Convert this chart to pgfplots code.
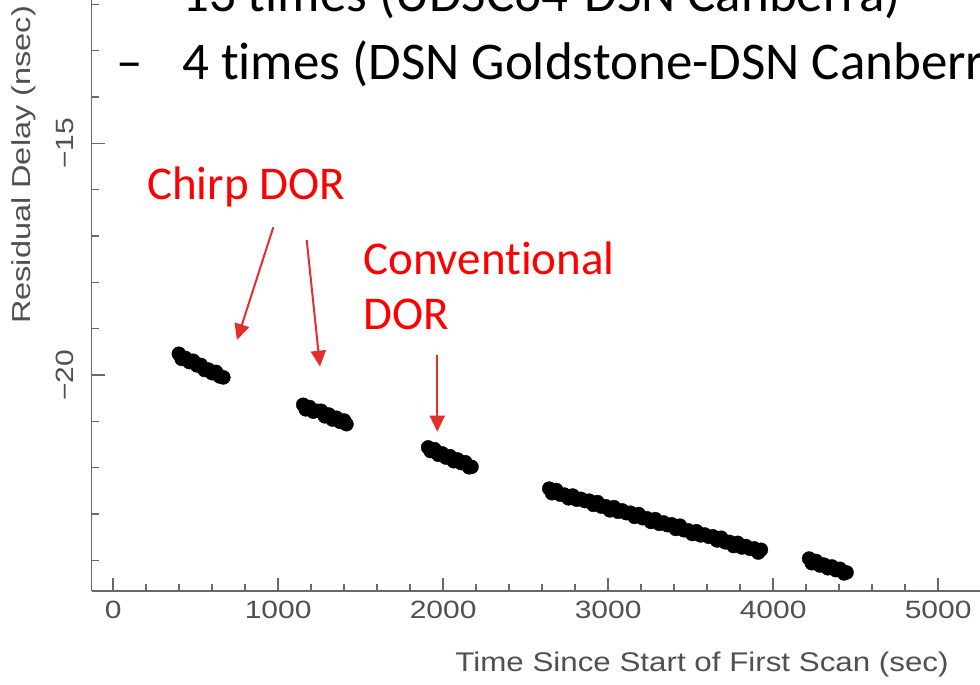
\documentclass[border=0pt]{standalone}
\usepackage{fontspec}
\usepackage{pgfplots}
\pgfplotsset{compat=1.18}
\usetikzlibrary{arrows.meta}
\newfontfamily\idlfont[FakeStretch=1.16]{Liberation Sans}
\newfontfamily\idlwide[FakeStretch=1.25]{Liberation Sans}
\newfontfamily\idltick[FakeStretch=1.2]{Liberation Sans}
\newfontfamily\slidefont[Ligatures=NoCommon]{Carlito}
\definecolor{axgray}{RGB}{105,105,105}
\definecolor{txgray}{RGB}{80,80,80}
\definecolor{annred}{RGB}{255,0,0}
\definecolor{arrred}{RGB}{228,45,45}
\begin{document}
\begin{tikzpicture}[x=1pt,y=1pt]
\useasboundingbox (0,0) rectangle (980,685);
\clip (0,0) rectangle (980,685);
\begin{axis}[
  scale only axis, width=928.95pt, height=609.7pt,
  at={(91.7pt,94pt)}, anchor=south west,
  xmin=-130, xmax=5500, ymin=-24.66, ymax=-11.5,
  axis x line*=bottom, axis y line*=left,
  axis line style={axgray, line width=1.4pt},
  every tick/.style={axgray, line width=1.4pt},
  tick align=inside,
  major tick length=13pt, minor tick length=7pt,
  xtick={0,1000,2000,3000,4000,5000},
  xticklabels={0,1000,2000,3000,4000,5000},
  minor x tick num=4,
  ytick={-25,-20,-15,-10},
  yticklabels={−25,−20,−15,−10},
  minor y tick num=4,
  ticklabel style={font=\idltick\fontsize{25}{25}\selectfont, text=txgray},
  xticklabel style={yshift=-7pt},
  yticklabel style={xshift=-14pt, rotate=90, anchor=south},
  clip=false,
]
% cluster 1 (Chirp DOR)
\addplot[only marks, mark=*, mark size=7pt, black] coordinates {
(398,-19.54) (415,-19.65) (438,-19.63) (462,-19.72) (485,-19.69) (508,-19.79)
(531,-19.78) (554,-19.89) (577,-19.88) (600,-19.96) (623,-19.93) (646,-20.03) (668,-20.05)
};
% cluster 2 (Chirp DOR)
\addplot[only marks, mark=*, mark size=7pt, black] coordinates {
(1152,-20.64) (1167,-20.74) (1190,-20.69) (1213,-20.79) (1237,-20.77) (1260,-20.77)
(1283,-20.89) (1306,-20.85) (1330,-20.96) (1353,-20.92) (1376,-21.01) (1400,-20.98) (1414,-21.06)
};
% cluster 3 (Conventional DOR)
\addplot[only marks, mark=*, mark size=7pt, black] coordinates {
(1909,-21.56) (1924,-21.64) (1948,-21.60) (1971,-21.72) (1994,-21.69) (2017,-21.78)
(2041,-21.75) (2064,-21.86) (2087,-21.82) (2110,-21.90) (2134,-21.88) (2157,-21.99) (2172,-21.98)
};
% cluster 4
\addplot[only marks, mark=*, mark size=7pt, black] coordinates {
(2643,-22.45) (2660,-22.55) (2685,-22.48) (2710,-22.58) (2735,-22.58) (2760,-22.66)
(2785,-22.60) (2810,-22.69) (2835,-22.67) (2860,-22.72) (2885,-22.71) (2910,-22.80)
(2935,-22.74) (2960,-22.84) (2985,-22.83) (3010,-22.92) (3035,-22.85) (3060,-22.95)
(3085,-22.92) (3110,-22.98) (3135,-22.97) (3160,-23.06) (3185,-23.00) (3210,-23.09)
(3235,-23.09) (3260,-23.17) (3285,-23.11) (3310,-23.21) (3335,-23.18) (3360,-23.24)
(3385,-23.22) (3410,-23.32) (3435,-23.25) (3460,-23.35) (3485,-23.35) (3510,-23.43)
(3535,-23.37) (3560,-23.46) (3585,-23.44) (3610,-23.49) (3635,-23.48) (3660,-23.57)
(3685,-23.51) (3710,-23.61) (3735,-23.60) (3760,-23.69) (3785,-23.62) (3810,-23.72)
(3835,-23.69) (3860,-23.75) (3885,-23.74) (3910,-23.83) (3926,-23.77)
};
% cluster 5
\addplot[only marks, mark=*, mark size=7pt, black] coordinates {
(4218,-23.96) (4234,-24.06) (4259,-24.01) (4283,-24.11) (4307,-24.09) (4332,-24.17)
(4356,-24.13) (4380,-24.21) (4404,-24.18) (4429,-24.28) (4445,-24.26)
};
\end{axis}
% axis titles
\node[rotate=90, text=txgray, font=\idlwide\fontsize{26}{26}\selectfont] at (24,520) {Residual Delay (nsec)};
\node[text=txgray, font=\idlfont\fontsize{27}{27}\selectfont] at (702,20) {Time Since Start of First Scan (sec)};
% slide text
\node[anchor=base west, inner sep=0, font=\slidefont\fontsize{53}{60}\selectfont] at (182,673) {13 times (UDSC64-DSN Canberra)};
\node[anchor=base west, inner sep=0, font=\slidefont\fontsize{53}{60}\selectfont] at (116,605) {–};
\node[anchor=base west, inner sep=0, font=\slidefont\fontsize{53}{60}\selectfont] at (182,605) {4 times (DSN Goldstone-DSN Canberra)};
% annotations
\node[anchor=base west, inner sep=0, text=annred, font=\slidefont\fontsize{47}{54}\selectfont] at (147,485) {Chirp DOR};
\node[anchor=base west, inner sep=0, text=annred, font=\slidefont\fontsize{47}{54}\selectfont] at (363,410) {Conventional};
\node[anchor=base west, inner sep=0, text=annred, font=\slidefont\fontsize{47}{54}\selectfont] at (363,355) {DOR};
\draw[arrred, line width=2pt, -{Triangle[length=16pt,width=15pt]}] (273.3,457.7) -- (237,345);
\draw[arrred, line width=2pt, -{Triangle[length=16pt,width=15pt]}] (306.7,445) -- (320,318.3);
\draw[arrred, line width=2pt, -{Triangle[length=16pt,width=15pt]}] (437.3,330) -- (437.3,253.3);
\end{tikzpicture}
\end{document}
